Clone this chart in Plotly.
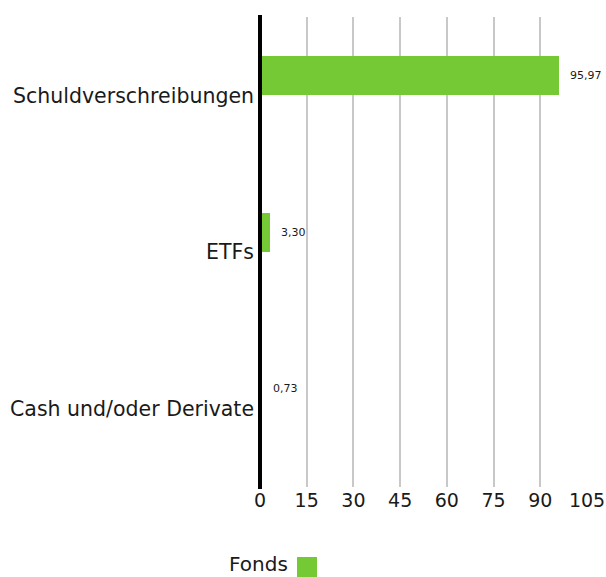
import plotly.graph_objects as go

categories = ["Schuldverschreibungen", "ETFs", "Cash und/oder Derivate"]
values = [95.97, 3.30, 0.73]
value_labels = ["95,97", "3,30", "0,73"]
series_name = "Fonds"
x_ticks = [0, 15, 30, 45, 60, 75, 90, 105]

GREEN = "#74c934"
FONT = "DejaVu Sans"
TEXT = "#1a1a1a"

fig = go.Figure()
fig.add_trace(go.Bar(
    y=categories, x=values, orientation="h",
    marker=dict(color=GREEN, line=dict(width=0)),
    width=0.25, offset=-0.25,
    name=series_name, showlegend=False, hoverinfo="skip",
))

for c, v, t in zip(categories, values, value_labels):
    fig.add_annotation(x=v, y=c, text=t, showarrow=False, xanchor="left",
                       yanchor="middle", xshift=9, yshift=20,
                       font=dict(family=FONT, size=11, color=TEXT))

# legend: label then swatch (to the right of the label, as in the original)
fig.add_annotation(xref="paper", yref="paper", x=0.0917, y=-0.164, text=series_name,
                   showarrow=False, xanchor="right", yanchor="middle",
                   font=dict(family=FONT, size=20, color=TEXT))
fig.add_shape(type="rect", xref="paper", yref="paper", x0=0.1131, x1=0.1743,
              y0=-0.1915, y1=-0.1489, fillcolor=GREEN, line=dict(width=0))

# black baseline at the value axis origin (left edge of the plot), drawn above the bars
fig.add_shape(type="line", xref="paper", yref="paper", x0=0, x1=0, y0=-0.004, y1=1.004,
              line=dict(color="black", width=4), layer="above")

fig.update_layout(
    width=606, height=577,
    margin=dict(l=260, r=19, t=17, b=90, autoexpand=False),
    paper_bgcolor="white", plot_bgcolor="white",
    font=dict(family=FONT, color=TEXT),
    bargap=0, showlegend=False,
    xaxis=dict(range=[0, 105], tickvals=x_ticks, showgrid=True, gridcolor="#c8c8c8",
               gridwidth=2, zeroline=False,
               tickfont=dict(size=19, family=FONT, color=TEXT), ticks="",
               showline=False, automargin=False, fixedrange=True),
    yaxis=dict(categoryorder="array", categoryarray=categories, range=[2.5, -0.5],
               showgrid=False, zeroline=False, ticks="", showline=False,
               ticklabelstandoff=5, automargin=False, fixedrange=True,
               tickfont=dict(size=20.5, family=FONT, color=TEXT)),
)

fig.write_html("out.html", config={"displayModeBar": False},
               post_script="document.body.style.margin='0';document.body.style.overflow='hidden';")
